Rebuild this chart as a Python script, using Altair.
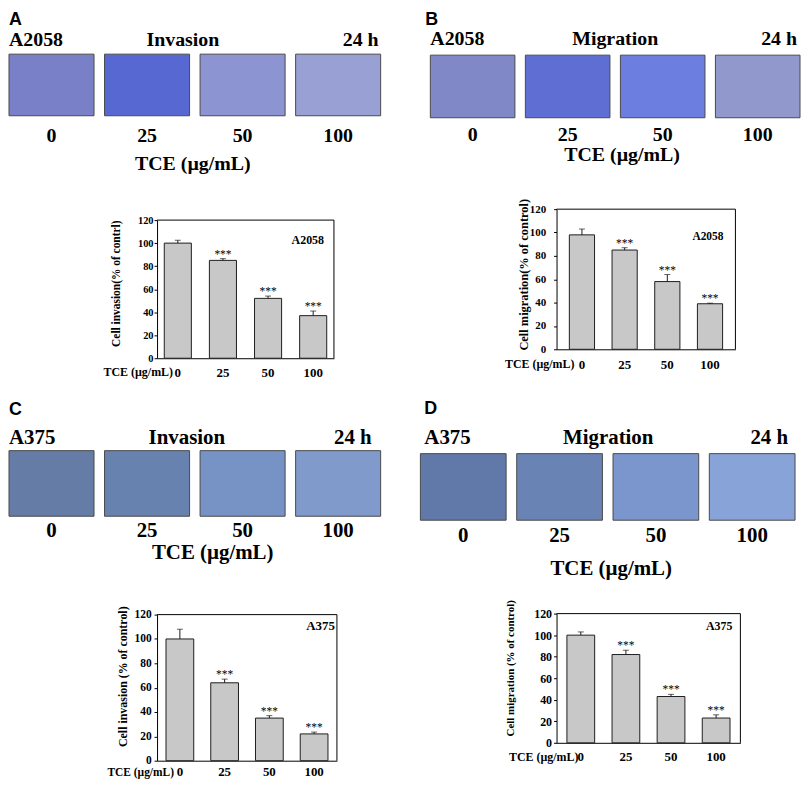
import altair as alt
import pandas as pd

# ---------------- data ----------------
doses = ["0", "25", "50", "100"]
stars = ["", "***", "***", "***"]
y_ticks = [0, 20, 40, 60, 80, 100, 120]

inv_a2058 = [100, 85, 52, 37]
inv_a2058_err = [2.5, 1.5, 2, 4]
mig_a2058 = [98, 85, 58, 39]
mig_a2058_err = [5, 2, 6, 0.5]
inv_a375 = [100, 64, 35, 22]
inv_a375_err = [8, 3, 2, 1.5]
mig_a375 = [100, 82, 43, 23]
mig_a375_err = [3, 4, 2, 3]

# average tint of each micrograph
img_a = ["#7a80c8", "#5868d2", "#8c95d2", "#98a0d4"]
img_b = ["#8088c8", "#5e6ed2", "#6c7ee0", "#9098cc"]
img_c = ["#657ca6", "#6882b0", "#7792c4", "#7f9acb"]
img_d = ["#6079a9", "#6a83b5", "#7b96cc", "#88a3d8"]

panel_letters = ["A", "B", "C", "D"]
cell_lines = ["A2058", "A2058", "A375", "A375"]
assays = ["Invasion", "Migration", "Invasion", "Migration"]
time_label = "24 h"
dose_title = "TCE (\u00b5g/mL)"
y_titles = ["Cell invasion(% of contrl)", "Cell migration(% of control)",
            "Cell invasion (% of control)", "Cell migration (% of control)"]

SERIF = "Liberation Serif"
SANS = "Liberation Sans"
INK = "#1e1e1e"


def label(text, x, y, size, align="left", font=SERIF, weight="bold"):
    return alt.Chart(pd.DataFrame({"t": [text]})).mark_text(
        font=font, fontSize=size, fontWeight=weight, align=align,
        baseline="alphabetic", color="black"
    ).encode(x=alt.value(x), y=alt.value(y), text="t:N")


def quadrant(idx, colors, vals, errs, W, H, ytop, S, P):
    # ---- micrograph strip (own x scale, placed above the bar plot) ----
    sdf = pd.DataFrame({"dose": doses, "fill": colors})
    xs = alt.X("dose:N", sort=doses,
               scale=alt.Scale(range=[S["x0"], S["x1"]], paddingInner=0.11, paddingOuter=0),
               axis=None)
    sbase = alt.Chart(sdf)
    imgs = sbase.mark_rect(stroke="#4a4a4a", strokeWidth=1).encode(
        x=xs, y=alt.value(S["y0"]), y2=alt.value(S["y1"]),
        fill=alt.Fill("fill:N", scale=None))
    nums = sbase.mark_text(font=SERIF, fontWeight="bold", fontSize=S["fs"],
                           baseline="alphabetic", color="black").encode(
        x=xs, y=alt.value(S["num"]), text="dose:N")
    strip = alt.layer(
        imgs, nums,
        label(panel_letters[idx], S["letter"][0], S["letter"][1], 18, font=SANS),
        label(cell_lines[idx], S["cell"][0], S["cell"][1], S["fs"]),
        label(assays[idx], S["assay"][0], S["assay"][1], S["fs"], align="center"),
        label(time_label, S["time"][0], S["time"][1], S["fs"], align="right"),
        label(dose_title, S["tce"][0], S["tce"][1], S["fs"], align="center"),
    )

    # ---- bar chart ----
    df = pd.DataFrame({"dose": doses, "v": vals, "e": errs, "star": stars})
    base = alt.Chart(df).transform_calculate(top="datum.v + datum.e")
    x = alt.X("dose:N", sort=doses,
              scale=alt.Scale(paddingInner=P["pi"], paddingOuter=P["po"]),
              axis=alt.Axis(orient="bottom", title=None, labelAngle=0, labelFont=SERIF,
                            labelFontWeight="bold", labelFontSize=P["xfs"],
                            labelColor="black", ticks=False, tickSize=0,
                            labelPadding=P["xpad"], labelBaseline="alphabetic",
                            labelOverlap=False, domainColor="black"))
    yaxis = alt.Axis(orient="left", values=y_ticks, tickCount=len(y_ticks), format="d",
                     title=y_titles[idx],
                     titleFont=SERIF, titleFontWeight="bold",
                     titleFontSize=P["tfs"], titleColor="black",
                     titleX=P["tx"], titleY=P["ty"], titleAngle=270,
                     titleAlign="center", titleBaseline="middle",
                     labelFont=SERIF, labelFontWeight="bold",
                     labelFontSize=P["yfs"], labelColor="black",
                     labelOverlap=False, labelFlush=False,
                     tickSize=3, tickColor="black", domainColor="black",
                     labelPadding=P["lp"], grid=False)
    y = alt.Y("v:Q", scale=alt.Scale(domain=[0, 120], range=[H, ytop], nice=False),
              axis=yaxis)
    bars = base.mark_bar(color="#c8c8c8", stroke=INK, strokeWidth=1).encode(x=x, y=y)
    rule = base.mark_rule(color=INK, strokeWidth=1).encode(x=x, y=y, y2="top:Q")
    cap = base.mark_tick(color=INK, thickness=1, size=6).encode(
        x=x, y=alt.Y("top:Q", axis=yaxis))
    st = base.mark_text(font=SERIF, fontSize=11.5, baseline="alphabetic", dy=-1,
                        color="black").encode(
        x=x, y=alt.Y("top:Q", axis=yaxis), text="star:N")
    one = alt.Chart(pd.DataFrame({"k": [0]}))
    frame_top = one.mark_rule(color="black", strokeWidth=1).encode(
        y=alt.datum(120), x=alt.value(0), x2=alt.value(W))
    frame_right = one.mark_rule(color="black", strokeWidth=1).encode(
        x=alt.value(W), y=alt.datum(0), y2=alt.datum(120))
    cell_t = label(cell_lines[idx], P["cx"], P["cy"], P["cfs"], align="right")
    tce = label(dose_title, P["dx"], H + P["xpad"], P["tcefs"], align="right")
    barlayer = alt.layer(bars, rule, cap, st, frame_top, frame_right, cell_t, tce)

    return alt.layer(strip, barlayer).resolve_scale(
        x="independent", y="independent").properties(width=W, height=H)


qA = quadrant(0, img_a, inv_a2058, inv_a2058_err, 178, 150, 11,
              dict(x0=-149, x1=225, y0=-156, y1=-94, fs=20, num=-68,
                   letter=(-149, -185), cell=(-149, -164), assay=(26, -164),
                   time=(223, -164), tce=(36, -39)),
              dict(po=0.16, pi=0.4, xfs=13, xpad=18, tfs=11.5, tx=-41, ty=74.5,
                   yfs=10.5, lp=1, cx=168, cy=35, cfs=12, dx=16, tcefs=12))
qB = quadrant(1, img_b, mig_a2058, mig_a2058_err, 180, 141, 0,
              dict(x0=-127, x1=245, y0=-155, y1=-92, fs=20, num=-69,
                   letter=(-132, -185), cell=(-127, -165), assay=(59, -165),
                   time=(242, -165), tce=(66, -48)),
              dict(po=0.3, pi=0.41, xfs=13, xpad=19, tfs=12.5, tx=-33, ty=65.5,
                   yfs=11, lp=8, cx=168, cy=31, cfs=11.5, dx=18, tcefs=12))
qC = quadrant(2, img_c, inv_a375, inv_a375_err, 181, 148, 1,
              dict(x0=-149, x1=225, y0=-164, y1=-98, fs=21, num=-77,
                   letter=(-149, -200), cell=(-149, -171), assay=(30, -171),
                   time=(216, -171), tce=(56, -55)),
              dict(po=0.2, pi=0.38, xfs=13, xpad=15, tfs=12, tx=-35, ty=63,
                   yfs=11.5, lp=3, cx=179, cy=16, cfs=13, dx=17, tcefs=11.5))
qD = quadrant(3, img_d, mig_a375, mig_a375_err, 185, 130, 0,
              dict(x0=-137, x1=240, y0=-161, y1=-94, fs=21, num=-72,
                   letter=(-133, -201), cell=(-133, -171), assay=(52, -171),
                   time=(233, -171), tce=(55, -39)),
              dict(po=0.23, pi=0.385, xfs=13, xpad=18, tfs=11, tx=-46, ty=54.5,
                   yfs=12, lp=2, cx=177, cy=16, cfs=12, dx=22, tcefs=12))

chart = alt.concat(qA, qB, qC, qD, columns=2, bounds="flush", align="all",
                   spacing={"row": 257, "column": 217}).properties(
    padding=0, background="white"
).configure_view(stroke="transparent").configure_axis(labelOverlap=False)

chart.save("out.html", embed_options={"renderer": "svg", "actions": False})
